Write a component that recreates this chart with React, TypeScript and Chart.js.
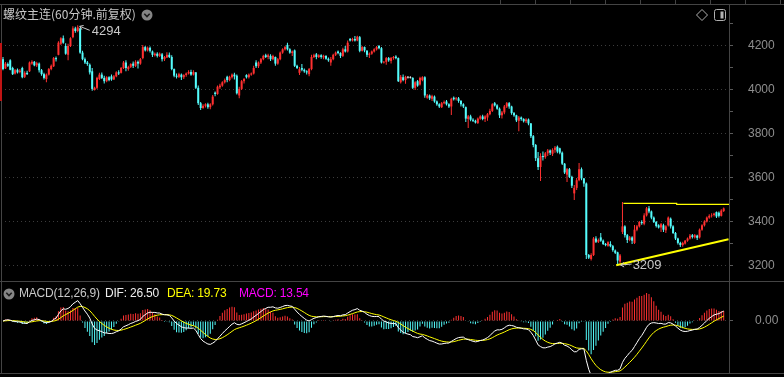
import React, { useEffect, useRef } from "react";
import { Chart, registerables } from "chart.js";

Chart.register(...registerables);

// ---------------- data ----------------
const chartTitle = "螺纹主连(60分钟.前复权)";

const open = [
  4140,4098,4118,4135,4100,4075,4092,4082,4100,4060,
  4078,4085,4120,4128,4112,4120,4090,4072,4050,4070,
  4095,4108,4145,4160,4210,4235,4200,4160,4200,4240,
  4280,4268,4280,4170,4140,4125,4115,4085,4000,4010,
  4050,4070,4055,4040,4058,4062,4048,4062,4080,4078,
  4100,4125,4095,4105,4120,4110,4128,4120,4145,4195,
  4180,4192,4175,4158,4165,4155,4162,4140,4148,4160,
  4150,4095,4065,4060,4070,4058,4068,4075,4082,4070,
  4080,4010,3940,3918,3928,3935,3922,3935,3988,3982,
  4012,4020,4035,4060,4045,4058,4070,4065,3975,4005,
  4040,4068,4058,4070,4075,4125,4108,4125,4140,4158,
  4150,4155,4140,4150,4120,4140,4170,4185,4205,4185,
  4168,4180,4110,4078,4100,4092,4085,4072,4095,4150,
  4162,4150,4158,4148,4155,4142,4125,4140,4160,4175,
  4168,4155,4185,4175,4232,4225,4232,4225,4240,4178,
  4195,4178,4160,4165,4175,4185,4200,4190,4125,4128,
  4145,4132,4145,4152,4145,4035,4058,4045,4058,4056,
  4055,4010,4040,4025,4045,4058,3965,3975,3960,3970,
  3948,3935,3922,3940,3948,3935,3925,3965,3958,3962,
  3950,3935,3922,3868,3880,3865,3860,3850,3870,3880,
  3868,3875,3890,3905,3940,3930,3915,3885,3898,3925,
  3940,3925,3895,3885,3860,3875,3868,3858,3866,3848,
  3790,3750,3690,3650,3700,3695,3712,3725,3710,3728,
  3742,3735,3715,3665,3615,3640,3605,3530,3555,3590,
  3640,3598,3575,3250,3232,3250,3325,3310,3330,3315,
  3300,3292,3300,3290,3270,3262,3220,3355,3380,3340,
  3318,3330,3305,3365,3380,3400,3392,3430,3462,3448,
  3420,3400,3385,3375,3385,3362,3385,3415,3380,3350,
  3325,3305,3295,3302,3315,3325,3340,3330,3338,3330,
  3365,3385,3402,3420,3428,3432,3445,3442,3428,3450,
];

const high = [
  4150,4127,4125,4140,4106,4095,4098,4095,4106,4085,
  4088,4130,4135,4132,4128,4125,4095,4078,4075,4100,
  4116,4150,4152,4222,4240,4248,4212,4210,4240,4290,
  4288,4294,4284,4178,4148,4132,4120,4100,4015,4060,
  4078,4080,4065,4062,4062,4070,4068,4085,4090,4105,
  4132,4135,4110,4122,4130,4135,4134,4145,4205,4200,
  4198,4198,4180,4170,4172,4170,4168,4155,4172,4170,
  4158,4098,4075,4078,4075,4072,4080,4090,4092,4090,
  4082,4020,3946,3935,3940,3942,3940,3977,3993,4020,
  4028,4040,4052,4065,4065,4075,4078,4070,4015,4045,
  4055,4072,4075,4080,4110,4135,4130,4145,4160,4165,
  4165,4162,4160,4152,4145,4175,4190,4200,4215,4190,
  4180,4184,4115,4105,4118,4098,4090,4100,4160,4165,
  4168,4162,4162,4160,4158,4148,4150,4165,4175,4180,
  4172,4192,4200,4225,4236,4238,4245,4247,4245,4200,
  4198,4182,4170,4180,4190,4200,4205,4195,4132,4150,
  4150,4150,4155,4158,4148,4068,4070,4065,4064,4062,
  4058,4040,4045,4060,4062,4062,3982,3980,3978,3975,
  3952,3940,3945,3952,3955,3940,3965,3970,3968,3968,
  3955,3940,3925,3886,3888,3872,3865,3875,3885,3888,
  3885,3895,3915,3940,3945,3935,3920,3905,3932,3945,
  3945,3928,3900,3888,3882,3880,3872,3872,3870,3850,
  3795,3755,3718,3712,3720,3718,3732,3730,3735,3745,
  3748,3738,3720,3668,3645,3645,3610,3568,3600,3668,
  3648,3600,3580,3255,3258,3332,3335,3325,3350,3320,
  3305,3312,3312,3295,3275,3265,3255,3491,3385,3345,
  3336,3335,3386,3386,3405,3408,3440,3468,3473,3452,
  3425,3405,3390,3395,3392,3385,3425,3420,3385,3355,
  3328,3310,3310,3318,3330,3345,3345,3345,3342,3370,
  3390,3408,3425,3435,3440,3442,3448,3448,3458,3466,
];

const low = [
  4090,4095,4105,4090,4068,4070,4075,4076,4053,4055,
  4068,4082,4115,4108,4105,4080,4065,4048,4035,4066,
  4090,4105,4130,4158,4205,4210,4160,4135,4195,4235,
  4260,4262,4165,4135,4118,4110,4070,3997,3998,4005,
  4045,4050,4030,4035,4040,4042,4045,4058,4068,4075,
  4095,4085,4088,4100,4100,4105,4098,4115,4140,4175,
  4175,4170,4150,4152,4148,4150,4130,4132,4145,4145,
  4090,4058,4052,4055,4045,4050,4060,4070,4065,4066,
  4005,3932,3909,3915,3920,3915,3912,3930,3972,3978,
  4005,4015,4030,4035,4040,4052,4048,3980,3962,4000,
  4030,4052,4052,4065,4070,4100,4100,4118,4135,4145,
  4140,4132,4135,4110,4115,4135,4165,4180,4180,4165,
  4155,4105,4095,4068,4085,4078,4070,4062,4090,4145,
  4140,4145,4142,4140,4138,4128,4110,4135,4155,4162,
  4145,4150,4170,4170,4220,4220,4220,4222,4172,4175,
  4172,4150,4145,4160,4170,4180,4185,4120,4120,4115,
  4128,4120,4138,4140,4036,4030,4040,4028,4052,4052,
  4005,4000,4015,4020,4040,3965,3960,3955,3950,3942,
  3928,3918,3918,3935,3930,3918,3886,3952,3952,3942,
  3925,3918,3855,3827,3858,3855,3848,3845,3865,3862,
  3855,3860,3885,3900,3925,3910,3873,3870,3890,3918,
  3915,3888,3878,3855,3813,3860,3852,3850,3840,3782,
  3740,3677,3636,3586,3680,3688,3700,3705,3700,3715,
  3712,3708,3659,3618,3582,3600,3555,3500,3545,3585,
  3590,3560,3232,3232,3225,3245,3305,3305,3310,3295,
  3290,3288,3285,3265,3255,3209,3212,3345,3330,3305,
  3312,3300,3300,3358,3375,3388,3385,3425,3440,3412,
  3395,3375,3370,3355,3355,3350,3380,3370,3345,3318,
  3298,3286,3288,3298,3310,3320,3325,3325,3318,3325,
  3360,3380,3398,3415,3420,3425,3418,3420,3425,3445,
];

const close = [
  4095,4120,4110,4092,4072,4090,4080,4088,4058,4078,
  4072,4125,4128,4112,4122,4090,4072,4055,4070,4095,
  4110,4145,4140,4215,4235,4215,4165,4200,4235,4280,
  4268,4285,4170,4140,4125,4118,4080,4005,4010,4055,
  4070,4055,4040,4058,4045,4048,4062,4080,4075,4100,
  4125,4100,4105,4118,4110,4128,4120,4140,4195,4180,
  4192,4178,4160,4165,4155,4165,4140,4150,4160,4150,
  4095,4065,4060,4072,4058,4068,4075,4082,4070,4082,
  4010,3940,3918,3928,3935,3922,3935,3970,3982,4015,
  4020,4035,4045,4045,4060,4070,4062,3985,4005,4040,
  4050,4058,4070,4075,4100,4108,4125,4140,4155,4150,
  4158,4140,4155,4120,4140,4170,4185,4195,4185,4170,
  4175,4110,4100,4095,4092,4085,4080,4095,4150,4158,
  4150,4158,4150,4155,4142,4135,4140,4160,4170,4168,
  4155,4185,4175,4215,4225,4232,4225,4242,4178,4195,
  4180,4160,4165,4175,4185,4195,4190,4125,4128,4145,
  4135,4145,4150,4145,4040,4060,4045,4060,4058,4056,
  4010,4035,4020,4055,4058,3975,3975,3962,3972,3948,
  3935,3925,3940,3945,3935,3925,3960,3958,3962,3950,
  3935,3925,3870,3880,3865,3860,3852,3870,3880,3868,
  3880,3890,3905,3935,3930,3915,3885,3898,3925,3940,
  3925,3895,3885,3862,3875,3868,3858,3866,3848,3790,
  3750,3690,3650,3700,3695,3712,3725,3715,3728,3738,
  3720,3715,3665,3625,3640,3605,3565,3555,3590,3640,
  3598,3575,3250,3238,3250,3325,3310,3318,3315,3300,
  3295,3308,3290,3272,3260,3225,3248,3380,3340,3318,
  3330,3315,3365,3380,3400,3395,3430,3462,3448,3420,
  3400,3382,3375,3390,3365,3380,3420,3380,3350,3325,
  3305,3295,3305,3315,3325,3338,3332,3340,3328,3365,
  3385,3402,3420,3428,3430,3438,3425,3428,3452,3462,
];

const priceTicks = [3200, 3300, 3400, 3500, 3600, 3700, 3800, 3900, 4000, 4100, 4200, 4300];
const priceMin = 3131.8;
const priceMax = 4390.9;

const macdPeriods = [12, 26, 9];
const macdNames = ["DIF", "DEA", "MACD"];
const macdReadout = ["26.50", "19.73", "13.54"];
const macdTicks = [0];
const macdMin = -114.8;
const macdMax = 86.1;

// hand-drawn trend lines (bar index, price)
const resistanceX = [257.4, 279.5, 279.5, 301.5];
const resistanceY = [3485, 3485, 3480.5, 3480.5];
const supportX = [254.4, 301.0];
const supportY = [3203, 3321.4];

// ---------------- style ----------------
const UP = "#ff3030";
const DOWN = "#54fcfc";
const DOJI = "#ececec";
const GRID = "#3c3c3c";
const FRAME = "#444444";
const LABEL = "#8e8e8e";
const TEXT = "#c8c8c8";
const FONT = "'Liberation Sans', Arial, sans-serif";
const CJK = "'Noto Sans CJK SC', 'Noto Sans', sans-serif";
const AXIS_W = 55;
const N = close.length;
const X_MIN = -0.83;
const X_MAX = N - 1 + 2.2;

function ema(values: number[], n: number): number[] {
  const k = 2 / (n + 1);
  const out: number[] = [];
  let prev = values[0];
  values.forEach((v, i) => {
    prev = i === 0 ? v : prev + k * (v - prev);
    out.push(prev);
  });
  return out;
}

const emaFast = ema(close, macdPeriods[0]);
const emaSlow = ema(close, macdPeriods[1]);
const dif = emaFast.map((v, i) => v - emaSlow[i]);
const dea = ema(dif, macdPeriods[2]);
const hist = dif.map((v, i) => 2 * (v - dea[i]));

const candleColor = close.map((c, i) => (c > open[i] ? UP : c < open[i] ? DOWN : DOJI));

function arrow(ctx: CanvasRenderingContext2D, x1: number, y1: number, x2: number, y2: number) {
  ctx.beginPath();
  ctx.moveTo(x1, y1);
  ctx.lineTo(x2, y2);
  const a = Math.atan2(y2 - y1, x2 - x1);
  ctx.moveTo(x2, y2);
  ctx.lineTo(x2 - 4 * Math.cos(a - 0.6), y2 - 4 * Math.sin(a - 0.6));
  ctx.moveTo(x2, y2);
  ctx.lineTo(x2 - 4 * Math.cos(a + 0.6), y2 - 4 * Math.sin(a + 0.6));
  ctx.stroke();
}

const extremesPlugin = {
  id: "extremes",
  afterDatasetsDraw(chart: any) {
    const { ctx, scales } = chart;
    const xs = scales.x;
    const ys = scales.y;
    let hi = 0;
    let lo = 0;
    for (let i = 0; i < N; i++) {
      if (high[i] > high[hi]) hi = i;
      if (low[i] < low[lo]) lo = i;
    }
    ctx.save();
    ctx.strokeStyle = TEXT;
    ctx.fillStyle = TEXT;
    ctx.lineWidth = 1;
    ctx.font = `13px ${FONT}`;
    ctx.textAlign = "left";
    ctx.textBaseline = "middle";
    let px = xs.getPixelForValue(hi);
    let py = ys.getPixelForValue(high[hi]);
    arrow(ctx, px + 12, py + 5, px + 2, py + 1);
    ctx.fillText(String(high[hi]), px + 14, py + 6);
    px = xs.getPixelForValue(lo);
    py = ys.getPixelForValue(low[lo]);
    arrow(ctx, px + 14, py, px + 3, py + 1);
    ctx.fillText(String(low[lo]), px + 15, py + 1);
    ctx.restore();
  },
};

function Circle({ left, top }: { left: number; top: number }) {
  return (
    <svg width={12} height={12} style={{ position: "absolute", left, top }}>
      <circle cx={6} cy={6} r={5.5} fill="#858585" />
      <path d="M3.3 4.8 L6 7.5 L8.7 4.8" stroke="#1c1c1c" strokeWidth={1.6} fill="none" />
    </svg>
  );
}

const fitAxis = (a: any) => {
  a.width = AXIS_W;
  a.paddingTop = 0;
  a.paddingBottom = 0;
};

export default function App() {
  const topRef = useRef<HTMLCanvasElement>(null);
  const botRef = useRef<HTMLCanvasElement>(null);

  useEffect(() => {
    const xScale = { type: "linear", min: X_MIN, max: X_MAX, display: false, offset: false };

    const c1 = new Chart(topRef.current as HTMLCanvasElement, {
      type: "bar",
      data: {
        datasets: [
          {
            type: "line",
            data: resistanceX.map((x, i) => ({ x, y: resistanceY[i] })),
            borderColor: "#ffff00",
            borderWidth: 1.2,
            pointRadius: 0,
            order: 0,
          } as any,
          {
            type: "line",
            data: supportX.map((x, i) => ({ x, y: supportY[i] })),
            borderColor: "#ffff00",
            borderWidth: 2,
            pointRadius: 0,
            order: 0,
          } as any,
          {
            type: "bar",
            data: close.map((c, i) => ({
              x: i,
              y: c === open[i] ? [c - 1.5, c + 1.5] : [Math.min(c, open[i]), Math.max(c, open[i])],
            })),
            backgroundColor: candleColor,
            barThickness: 2,
            grouped: false,
            inflateAmount: 0,
            order: 1,
          } as any,
          {
            type: "bar",
            data: close.map((_, i) => ({ x: i, y: [low[i], high[i]] })),
            backgroundColor: candleColor,
            barThickness: 1,
            grouped: false,
            inflateAmount: 0,
            order: 2,
          } as any,
        ],
      },
      options: {
        responsive: false,
        animation: false,
        devicePixelRatio: 1,
        events: [],
        layout: { padding: { top: 4, left: 1, right: 0, bottom: 0 } },
        plugins: { legend: { display: false }, tooltip: { enabled: false } },
        scales: {
          x: xScale as any,
          y: {
            type: "linear",
            position: "right",
            min: priceMin,
            max: priceMax,
            afterBuildTicks: (a: any) => {
              a.ticks = priceTicks.map((v) => ({ value: v }));
            },
            afterFit: fitAxis,
            grid: {
              color: (ctx: any) => (ctx.tick && ctx.tick.value % 200 === 0 ? GRID : "rgba(0,0,0,0)"),
              tickColor: "#5a5a5a",
              tickLength: 4,
              lineWidth: 1,
            },
            border: { display: true, color: FRAME, dash: [1, 3] },
            ticks: {
              color: LABEL,
              font: { family: FONT, size: 12 },
              padding: 15,
              autoSkip: false,
              callback: (v: any) => (Number(v) % 200 === 0 ? String(v) : ""),
            },
          } as any,
        },
      },
      plugins: [extremesPlugin],
    } as any);

    const c2 = new Chart(botRef.current as HTMLCanvasElement, {
      type: "bar",
      data: {
        datasets: [
          {
            type: "line",
            data: dif.map((v, i) => ({ x: i, y: v })),
            borderColor: "#ffffff",
            borderWidth: 1,
            pointRadius: 0,
            order: 1,
          } as any,
          {
            type: "line",
            data: dea.map((v, i) => ({ x: i, y: v })),
            borderColor: "#ffff00",
            borderWidth: 1,
            pointRadius: 0,
            order: 2,
          } as any,
          {
            type: "bar",
            data: hist.map((v, i) => ({ x: i, y: v })),
            backgroundColor: hist.map((v) => (v >= 0 ? UP : DOWN)),
            barThickness: 1,
            grouped: false,
            inflateAmount: 0,
            order: 3,
          } as any,
        ],
      },
      options: {
        responsive: false,
        animation: false,
        devicePixelRatio: 1,
        events: [],
        layout: { padding: { top: 1, left: 1, right: 0, bottom: 4 } },
        plugins: { legend: { display: false }, tooltip: { enabled: false } },
        scales: {
          x: xScale as any,
          y: {
            type: "linear",
            position: "right",
            min: macdMin,
            max: macdMax,
            afterBuildTicks: (a: any) => {
              a.ticks = macdTicks.map((v) => ({ value: v }));
            },
            afterFit: fitAxis,
            grid: { color: GRID, tickColor: "#5a5a5a", tickLength: 4, lineWidth: 1 },
            border: { display: true, color: FRAME, dash: [1, 3] },
            ticks: {
              color: LABEL,
              font: { family: FONT, size: 12 },
              padding: 22,
              callback: (v: any) => Number(v).toFixed(2),
            },
          } as any,
        },
      },
    } as any);

    return () => {
      c1.destroy();
      c2.destroy();
    };
  }, []);

  const line = (left: number, top: number, width: number, height: number) => (
    <div style={{ position: "absolute", left, top, width, height, background: FRAME }} />
  );

  const legendStyle = (left: number, color: string): React.CSSProperties => ({
    position: "absolute",
    left,
    top: 286,
    font: `12px ${FONT}`,
    lineHeight: "15px",
    letterSpacing: "-0.2px",
    color,
    whiteSpace: "nowrap",
  });

  return (
    <div
      style={{
        position: "fixed",
        left: 0,
        top: 0,
        width: 784,
        height: 377,
        background: "#000",
        overflow: "hidden",
      }}
    >
      <canvas ref={topRef} width={784} height={281} style={{ position: "absolute", left: 0, top: 0 }} />
      <canvas ref={botRef} width={784} height={96} style={{ position: "absolute", left: 0, top: 281 }} />

      {line(0, 4, 784, 1)}
      {line(0, 281, 784, 1)}
      {line(0, 373, 784, 1)}
      {line(1, 4, 1, 369)}
      {[500, 535, 570, 605, 640, 675, 710, 745, 780].map((x) => (
        <div key={x} style={{ position: "absolute", left: x, top: 0, width: 1, height: 4, background: FRAME }} />
      ))}
      <div style={{ position: "absolute", left: 0, top: 43, width: 2, height: 58, background: "#c01414" }} />

      <div
        style={{
          position: "absolute",
          left: 3,
          top: 6,
          font: `12px ${CJK}`,
          lineHeight: "16px",
          color: TEXT,
          whiteSpace: "nowrap",
        }}
      >
        {chartTitle}
      </div>
      <Circle left={141} top={9} />

      <svg width={14} height={14} style={{ position: "absolute", left: 695, top: 8 }}>
        <polygon points="7,1.5 12.5,7 7,12.5 1.5,7" stroke="#b0b0b0" strokeWidth={1} fill="none" />
      </svg>
      <svg width={14} height={14} style={{ position: "absolute", left: 713, top: 8 }}>
        <rect x={1.5} y={1.5} width={11} height={11} rx={2} stroke="#b0b0b0" strokeWidth={1} fill="none" />
        <rect x={7.5} y={3.5} width={3} height={7} fill="#b0b0b0" />
      </svg>

      <Circle left={3} top={288} />
      <div style={legendStyle(19, TEXT)}>{`MACD(${macdPeriods.join(",")})`}</div>
      <div style={legendStyle(105, "#eeeeee")}>{`${macdNames[0]}: ${macdReadout[0]}`}</div>
      <div style={legendStyle(167, "#ffff00")}>{`${macdNames[1]}: ${macdReadout[1]}`}</div>
      <div style={legendStyle(239, "#ff00ff")}>{`${macdNames[2]}: ${macdReadout[2]}`}</div>
    </div>
  );
}
